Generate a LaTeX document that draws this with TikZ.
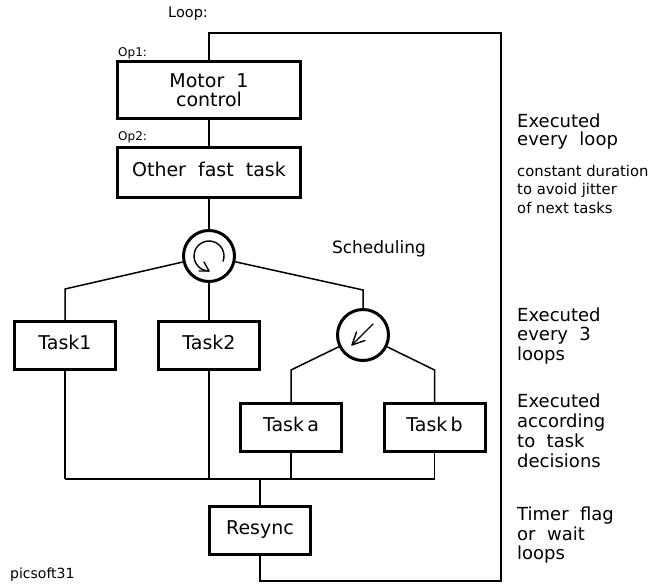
\documentclass[tikz,border=0pt]{standalone}
\usepackage{fontspec}
\setmainfont{DejaVu Sans}
\usetikzlibrary{arrows.meta}
\begin{document}
\begin{tikzpicture}[x=1pt,y=-1pt,
  conn/.style={line width=1.5pt},
  icon/.style={line width=1.4pt, line cap=round, line join=round},
  boxbase/.style={draw, line width=3pt, inner sep=0pt, font=\fontsize{19}{19}\selectfont},
  taskbox/.style={boxbase, minimum width=101pt, minimum height=48pt, text height=0.73em, text depth=0pt},
  sched/.style={draw, circle, line width=3pt, minimum size=51pt, inner sep=0pt},
  big/.style={anchor=base west, inner sep=0pt, font=\fontsize{18}{18}\selectfont},
  small/.style={anchor=base west, inner sep=0pt, font=\fontsize{14}{14}\selectfont},
  note/.style={anchor=base west, inner sep=0pt, font=\fontsize{14.8}{14.8}\selectfont},
  tag/.style={anchor=base west, inner sep=0pt, font=\fontsize{12}{12}\selectfont}
]
\useasboundingbox (0,0) rectangle (660,585);

% boxes
\node[boxbase, minimum width=183pt, minimum height=57pt, align=center] (motor) at (209,90) {Motor~~1\\control};
\node[boxbase, minimum width=183pt, minimum height=50pt, text height=0.73em, text depth=0pt] (other) at (209,172.5) {Other~~fast~~task};
\node[sched] (c1) at (209,256) {};
\node[taskbox] (t1) at (65,345.5) {Task1};
\node[taskbox] (t2) at (209,345.5) {Task2};
\node[sched] (c2) at (363,335) {};
\node[taskbox] (ta) at (291,427.5) {Task\,a};
\node[taskbox] (tb) at (434.5,427.5) {Task\,b};
\node[taskbox] (rs) at (260,530.5) {Resync};

% corner coordinates
\coordinate (k1) at (65,289);
\coordinate (k2) at (363,290);
\coordinate (k3) at (291,370);
\coordinate (k4) at (434.5,370);
\coordinate (b1) at (65,479);
\coordinate (b2) at (209,479);
\coordinate (b3) at (291,479);
\coordinate (b4) at (434.5,479);
\coordinate (bm) at (260,479);
\coordinate (l1) at (209,33);
\coordinate (l2) at (501,33);
\coordinate (l3) at (501,581);
\coordinate (l4) at (260,581);

% connectors
\draw[conn] (motor) -- (other);
\draw[conn] (other) -- (c1);
\draw[conn] (c1) -- (k1) -- (t1);
\draw[conn] (c1) -- (t2);
\draw[conn] (c1) -- (k2) -- (c2);
\draw[conn] (c2) -- (k3) -- (ta);
\draw[conn] (c2) -- (k4) -- (tb);
\draw[conn] (t1) -- (b1);
\draw[conn] (t2) -- (b2);
\draw[conn] (ta) -- (b3);
\draw[conn] (tb) -- (b4);
\draw[conn] (b1) -- (b4);
\draw[conn] (bm) -- (rs);
\draw[conn] (rs) -- (l4) -- (l3) -- (l2) -- (l1) -- (motor);

% icons
\draw[icon] ([shift={(20:15)}]c1.center) arc[start angle=20, end angle=-270, radius=15];
\coordinate (c1tip) at ([shift={(0,15)}]c1.center);
\draw[icon] ([shift={(-10,0)}]c1tip) -- (c1tip) -- ([shift={(-5,-9)}]c1tip);
\coordinate (c2s) at ([shift={(10,-11)}]c2.center);
\coordinate (c2tip) at ([shift={(-11,10)}]c2.center);
\draw[icon] (c2s) -- (c2tip);
\draw[icon] ([shift={(13,-4.5)}]c2tip) -- (c2tip) -- ([shift={(4.5,-13)}]c2tip);

% labels
\node[anchor=base west, inner sep=0pt, font=\fontsize{14.5}{14.5}\selectfont] (loop) at (168,18) {Loop:};
\node[tag] (op1) at (118,57) {Op1:};
\node[tag] (op2) at (118,141) {Op2:};
\node[anchor=base, inner sep=0pt, font=\fontsize{17}{17}\selectfont] (schedtxt) at (379,253) {Scheduling};
\node[small] (pic) at (10,578) {picsoft31};

% right column
\node[big] (e1a) at (517,128) {Executed};
\node[big] (e1b) at (517,146) {every~~loop};
\node[note] (s1) at (517,177) {constant duration};
\node[note] (s2) at (517,195) {to avoid jitter};
\node[note] (s3) at (517,213) {of next tasks};
\node[big] (e2a) at (517,321) {Executed};
\node[big] (e2b) at (517,340) {every~~3};
\node[big] (e2c) at (517,360) {loops};
\node[big] (e3a) at (517,407) {Executed};
\node[big] (e3b) at (517,427) {according};
\node[big] (e3c) at (517,447) {to~~task};
\node[big] (e3d) at (517,467) {decisions};
\node[big] (e4a) at (517,520) {Timer~~flag};
\node[big] (e4b) at (517,540) {or~~wait};
\node[big] (e4c) at (517,559) {loops};
\end{tikzpicture}
\end{document}
